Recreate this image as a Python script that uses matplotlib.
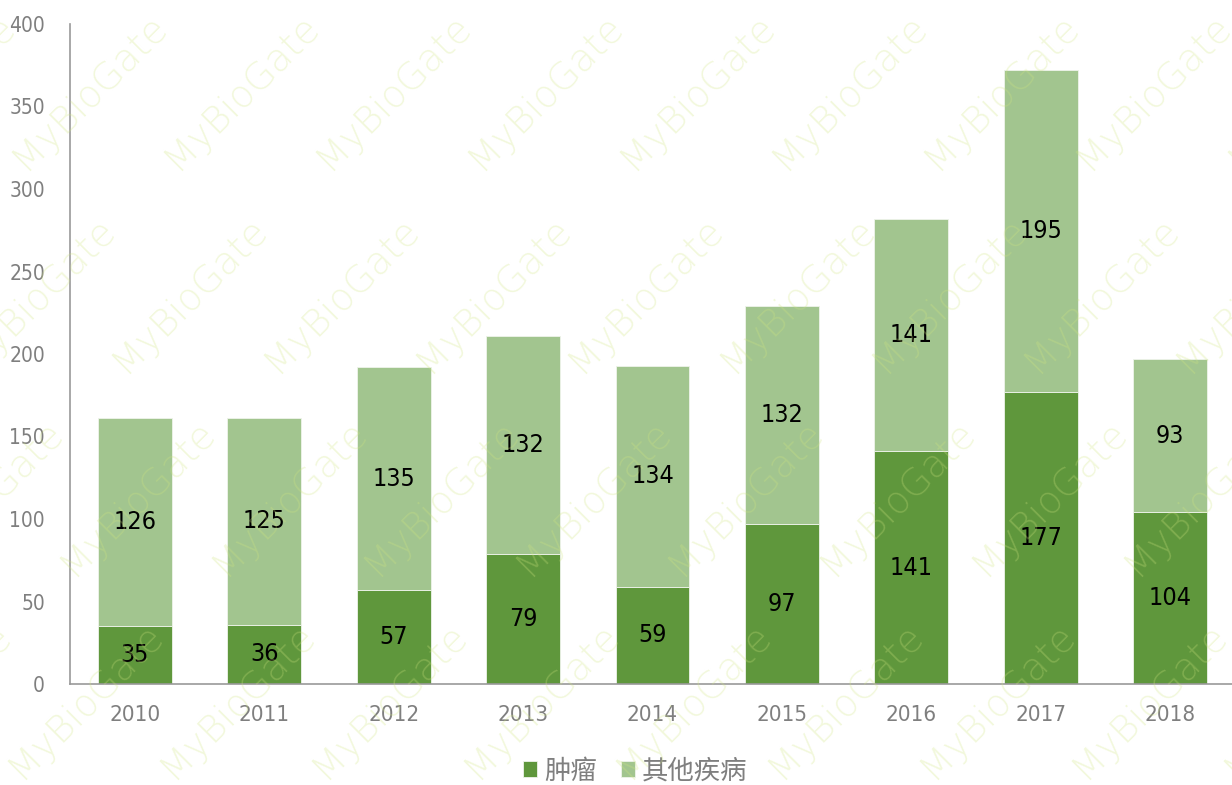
import matplotlib
matplotlib.use("Agg")
import matplotlib.pyplot as plt
from matplotlib import font_manager as fm
import numpy as np

years = ["2010", "2011", "2012", "2013", "2014", "2015", "2016", "2017", "2018"]
tumor = [35, 36, 57, 79, 59, 97, 141, 177, 104]
other = [126, 125, 135, 132, 134, 132, 141, 195, 93]
series_names = ["肿瘤", "其他疾病"]
yticks = [0, 50, 100, 150, 200, 250, 300, 350, 400]
watermark = "MyBioGate"


def pick_condensed():
    order = {'ultra-condensed': 0, 'extra-condensed': 1, 'condensed': 2, 'semi-condensed': 3}
    best = None
    for f in fm.fontManager.ttflist:
        fname = f.fname.lower()
        if f.style != 'normal':
            continue
        if f.weight not in (400, 'normal', 'regular'):
            continue
        if 'mono' in fname or ('serif' in f.name.lower() and 'sans' not in f.name.lower()):
            continue
        rank = None
        if isinstance(f.stretch, str) and f.stretch in order:
            rank = order[f.stretch]
        elif 'narrow' in fname or 'condensed' in fname:
            rank = 2.5
        if rank is None:
            continue
        if best is None or rank < best[0]:
            best = (rank, f.fname)
    if best is None:
        return fm.FontProperties(family='DejaVu Sans')
    return fm.FontProperties(fname=best[1])


cond = pick_condensed()
cjk_font = ['Noto Sans CJK SC', 'DejaVu Sans']

dark = '#5f973c'
light = '#a2c58f'
gray = '#7f7f7f'

fig = plt.figure(figsize=(12.32, 7.85), dpi=100)
ax = fig.add_axes([70/1232, 1-684/785, 1165/1232, 660/785])

x = np.arange(len(years))
w = 0.57
b1 = ax.bar(x, tumor, width=w, color=dark, edgecolor='#eef3ea', linewidth=0.6, zorder=2)
b2 = ax.bar(x, other, width=w, bottom=tumor, color=light, edgecolor='#eef3ea', linewidth=0.6, zorder=2)

def fp(size):
    p = cond.copy()
    p.set_size(size)
    return p

for i in range(len(years)):
    ax.text(x[i], tumor[i]/2, str(tumor[i]), ha='center', va='center',
            fontproperties=fp(18), color='black', zorder=3)
    ax.text(x[i], tumor[i] + other[i]/2, str(other[i]), ha='center', va='center',
            fontproperties=fp(18), color='black', zorder=3)

ax.set_xlim(-0.5, len(years) - 0.5)
ax.set_ylim(0, 400)
ax.set_yticks(yticks)
ax.set_yticklabels([str(v) for v in yticks], fontproperties=fp(15), color=gray)
ax.set_xticks(x)
ax.set_xticklabels(years, fontproperties=fp(16), color=gray)
ax.tick_params(axis='both', length=0)
ax.tick_params(axis='y', pad=18)
ax.tick_params(axis='x', pad=15)
for s in ['top', 'right']:
    ax.spines[s].set_visible(False)
for s in ['left', 'bottom']:
    ax.spines[s].set_color('#999999')
    ax.spines[s].set_linewidth(1.2)

leg = fig.legend([b1, b2], series_names, loc='center', bbox_to_anchor=(635/1232, 1-771/785),
                 ncol=2, frameon=False, prop={'family': cjk_font, 'size': 19},
                 handlelength=0.55, handleheight=0.55, handletextpad=0.25, columnspacing=0.9)
for t in leg.get_texts():
    t.set_color(gray)

# watermark lattice
for r in range(1, 6):
    yy = 92 + 203 * (r - 1)
    for k in range(-3, 12):
        xx = 241 + 152 * k - 52 * (r - 1)
        if xx < -90 or xx > 1320 or yy > 860:
            continue
        fig.text(xx/1232, 1-yy/785, watermark, rotation=45, ha='center', va='center',
                 rotation_mode='anchor', fontsize=27, color=(0.82, 0.9, 0.5), alpha=0.28,
                 family='DejaVu Sans', weight='light', zorder=10)

fig.savefig('out.png', dpi=100)
